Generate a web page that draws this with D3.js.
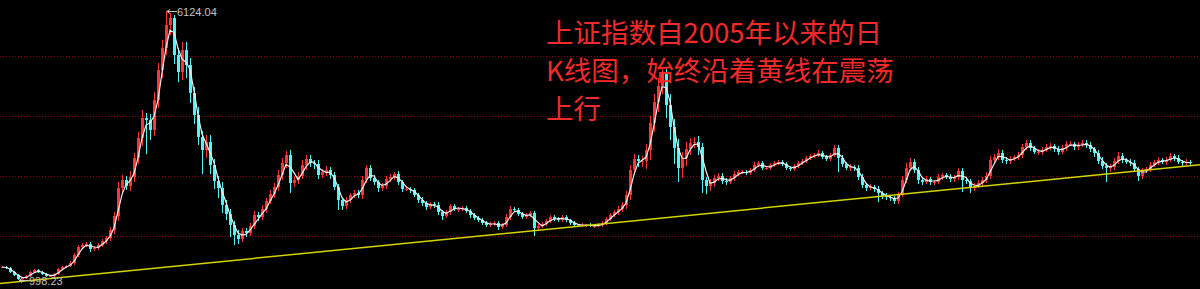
<!DOCTYPE html>
<html>
<head>
<meta charset="utf-8">
<script src="https://cdn.jsdelivr.net/npm/d3@7"></script>
<style>
  html, body { margin: 0; padding: 0; background: #000; overflow: hidden; }
</style>
</head>
<body>
<svg id="chart" width="1200" height="289"></svg>
<script>
"use strict";

// closing level of each sampled candle, 2005 -> 2023
var closes = [
  1246,1227,1150,1093,1017,1036,1074,1150,1189,1150,1112,1074,1074,1112,1208,1246,1265,1322,1475,1627,
  1665,1684,1589,1608,1665,1741,1799,1951,2218,2752,2904,2790,2961,3323,3704,4086,4048,3857,4429,5001,
  5420,5858,5992,5287,4963,5382,5096,4562,4143,3724,3476,3628,3190,2885,2752,2428,2256,2046,1856,1779,
  1932,1894,2027,2237,2199,2351,2504,2637,2771,2999,3228,3381,2847,2904,2980,3190,3304,3228,3209,2999,
  3056,3095,2999,2771,2523,2408,2523,2618,2656,2618,2904,3133,2942,2866,2752,2790,2923,2961,3018,2866,
  2732,2732,2713,2618,2523,2466,2389,2447,2428,2294,2218,2294,2408,2351,2351,2370,2313,2237,2180,2142,
  2084,2046,2065,2084,2008,2046,2199,2351,2332,2256,2199,2237,2275,1989,2027,2065,2122,2199,2161,2142,
  2199,2142,2084,2046,2046,2046,2046,2027,2027,2046,2084,2161,2237,2294,2351,2428,2618,3095,3304,3266,
  3266,3476,3990,4391,4696,4963,4334,3914,3514,3133,3323,3495,3609,3628,3533,2904,2790,2847,2942,2980,
  2885,2866,2942,3018,3056,3056,3037,3095,3190,3228,3133,3133,3190,3228,3247,3209,3133,3114,3171,3228,
  3266,3323,3361,3381,3419,3342,3304,3381,3514,3323,3209,3133,3152,3133,2961,2809,2752,2771,2732,2656,
  2599,2580,2561,2504,2618,2904,3133,3247,3095,2904,2866,2923,2866,2866,2961,2999,2961,2923,2961,3075,
  2904,2885,2752,2790,2847,2904,2980,3285,3342,3419,3285,3266,3304,3342,3381,3533,3609,3514,3438,3438,
  3476,3533,3552,3495,3438,3514,3590,3590,3533,3571,3609,3571,3495,3419,3266,3171,3133,3152,3266,3361,
  3285,3247,3228,3114,2980,3075,3114,3190,3247,3285,3247,3285,3361,3323,3247,3228,3247,3228
];

// shadow above the body, in index points
var upperWicks = [
  20,15,20,15,20,15,25,20,15,20,15,20,15,20,25,20,25,30,35,30,
  30,40,35,30,40,45,40,60,80,120,90,80,110,100,120,150,100,120,150,140,
  160,266.04,100,60,140,150,150,130,120,150,120,140,130,110,100,120,90,100,80,90,
  60,50,60,70,60,70,60,70,80,90,100,80,90,70,80,90,70,80,60,70,
  60,70,50,60,50,60,50,40,50,60,70,60,60,50,40,50,60,50,40,50,
  40,50,40,30,40,50,40,30,40,50,40,30,40,30,40,40,30,40,30,30,
  30,40,30,30,40,30,50,60,40,30,40,30,40,30,40,30,40,30,30,40,
  30,30,20,30,20,30,20,30,20,30,30,40,30,40,50,60,80,100,90,80,
  100,120,140,150,160,100,60,200,150,170,120,130,100,90,110,80,60,70,60,50,
  60,50,40,50,40,30,40,40,50,40,30,40,30,40,30,40,30,30,40,30,
  30,40,30,40,50,40,30,40,60,50,60,40,50,40,60,50,40,50,40,50,
  40,50,40,30,60,80,90,70,60,50,40,50,40,40,50,40,40,50,40,50,
  50,60,40,50,50,60,80,70,60,70,50,60,50,40,50,60,60,50,40,50,
  50,60,50,40,60,50,60,50,40,60,50,60,50,40,60,70,60,50,60,70,
  50,40,50,60,40,50,40,50,40,50,40,50,60,40,50,40,50,40
];

// shadow below the body, in index points
var lowerWicks = [
  20,15,20,15,18.77,10,15,20,15,20,15,20,15,20,20,15,20,25,30,30,
  30,40,50,30,40,40,50,60,70,100,120,80,100,90,120,150,640,200,120,150,
  150,140,200,180,200,160,250,200,180,150,450,150,180,150,200,150,120,230,190,90,
  60,70,50,60,80,60,70,60,70,80,90,100,200,80,70,60,100,80,90,70,
  60,70,80,60,190,70,60,50,60,60,70,60,50,60,80,60,50,60,50,60,
  50,40,50,40,50,60,50,40,50,60,70,40,50,40,50,40,40,50,40,40,
  40,30,40,30,50,40,40,50,40,40,40,40,40,150,50,40,40,30,40,30,
  30,30,30,30,30,20,30,20,30,20,30,30,40,40,50,60,80,100,100,120,
  120,150,200,180,200,150,250,250,300,270,200,150,120,100,150,250,150,100,80,60,
  60,50,40,50,40,40,40,40,40,30,40,30,40,30,40,30,40,40,30,30,
  30,30,40,30,40,40,30,40,40,260,60,40,50,50,60,60,50,40,50,180,
  50,60,50,60,50,40,60,50,60,70,50,40,50,60,40,50,40,50,60,50,
  230,60,100,50,40,50,50,60,50,60,50,60,50,40,50,50,60,50,40,50,
  50,40,50,60,50,40,50,40,60,50,40,50,60,70,60,60,270,80,50,60,
  50,40,50,60,100,50,40,50,40,50,40,50,40,50,40,50,40,50
];

var gridValues = [1837, 2980, 4123, 5267];

// yellow support line: level at the first slot and at the right edge
var trendFrom = 932;
var trendTo = 3194;

var noteLines = ["上证指数自2005年以来的日", "K线图，始终沿着黄线在震荡", "上行"];

var width = 1200, height = 289;
var slots = 300;

var svg = d3.select("#chart");
svg.append("rect").attr("width", width).attr("height", height).attr("fill", "#000");

var x = d3.scaleLinear().domain([0, slots]).range([0, width]);
var y = d3.scaleLinear().domain([998.23, 6124.04]).range([280, 11]);

var candles = closes.map(function(c, i) {
  var o = i ? closes[i - 1] : c;
  return {
    i: i, o: o, c: c,
    h: Math.max(o, c) + upperWicks[i],
    l: Math.min(o, c) - lowerWicks[i]
  };
});

function candleColor(d) {
  return d.c >= d.o ? "#ff3535" : "#52f4f4";
}

// dotted grid
svg.selectAll(".grid")
    .data(gridValues)
    .enter()
    .append("line")
    .attr("class", "grid")
    .attr("x1", 0)
    .attr("x2", width)
    .attr("y1", function(d) { return Math.round(y(d)) + 0.5 })
    .attr("y2", function(d) { return Math.round(y(d)) + 0.5 })
    .style("stroke", "#8a0000")
    .style("stroke-dasharray", "1,2")
    .style("stroke-width", 1)
    .style("shape-rendering", "crispEdges");

var step = x(1) - x(0);

// shadows
svg.selectAll(".wick")
    .data(candles)
    .enter()
    .append("rect")
    .attr("class", "wick")
    .attr("x", function(d) { return Math.round(x(d.i + 0.5)) })
    .attr("y", function(d) { return y(d.h) })
    .attr("width", 1)
    .attr("height", function(d) { return Math.max(1, y(d.l) - y(d.h)) })
    .style("fill", candleColor)
    .style("shape-rendering", "crispEdges");

// bodies
svg.selectAll(".body")
    .data(candles)
    .enter()
    .append("rect")
    .attr("class", "body")
    .attr("x", function(d) { return Math.round(x(d.i)) + 0.5 })
    .attr("y", function(d) { return y(Math.max(d.o, d.c)) })
    .attr("width", step - 1)
    .attr("height", function(d) { return Math.max(1, Math.abs(y(d.o) - y(d.c))) })
    .style("fill", candleColor)
    .style("shape-rendering", "crispEdges");

// short moving average of the closes
var ma = candles.map(function(d) {
  return { i: d.i, v: d3.mean(closes.slice(Math.max(0, d.i - 2), d.i + 1)) };
});

svg.append("path")
    .datum(ma)
    .attr("d", d3.line()
        .x(function(d) { return x(d.i + 0.5) })
        .y(function(d) { return y(d.v) }))
    .style("fill", "none")
    .style("stroke", "#eeeeee")
    .style("stroke-width", 1.2);

// support line
svg.append("line")
    .attr("x1", x(0))
    .attr("y1", y(trendFrom))
    .attr("x2", x(slots))
    .attr("y2", y(trendTo))
    .style("stroke", "#d4d400")
    .style("stroke-width", 1.5);

// max / min markers
function marker(d, value) {
  var cx = Math.round(x(d.i + 0.5)) + 1;
  var yy = Math.round(y(value)) + 0.5;
  svg.append("path")
      .attr("d", "M" + cx + "," + yy + "L" + (cx + 10) + "," + yy +
                 "M" + cx + "," + yy + "L" + (cx + 3) + "," + (yy - 2) +
                 "M" + cx + "," + yy + "L" + (cx + 3) + "," + (yy + 2))
      .style("stroke", "#c4c4c4")
      .style("fill", "none");
  svg.append("text")
      .attr("x", cx + 10)
      .attr("y", yy + 4)
      .text(d3.format(".2f")(value))
      .style("fill", "#c4c4c4")
      .style("font-family", "'Liberation Sans', Arial, sans-serif")
      .style("font-size", "11px");
}

var highest = candles[d3.maxIndex(candles, function(d) { return d.h })];
var lowest = candles[d3.minIndex(candles, function(d) { return d.l })];
marker(highest, highest.h);
marker(lowest, lowest.l);

// red note
svg.selectAll(".note")
    .data(noteLines)
    .enter()
    .append("text")
    .attr("class", "note")
    .attr("x", 546)
    .attr("y", function(d, i) { return 43 + i * 38 })
    .text(function(d) { return d })
    .style("fill", "#f22a2a")
    .style("font-family", "'Noto Sans CJK SC', sans-serif")
    .style("font-size", "27.5px");
</script>
</body>
</html>
